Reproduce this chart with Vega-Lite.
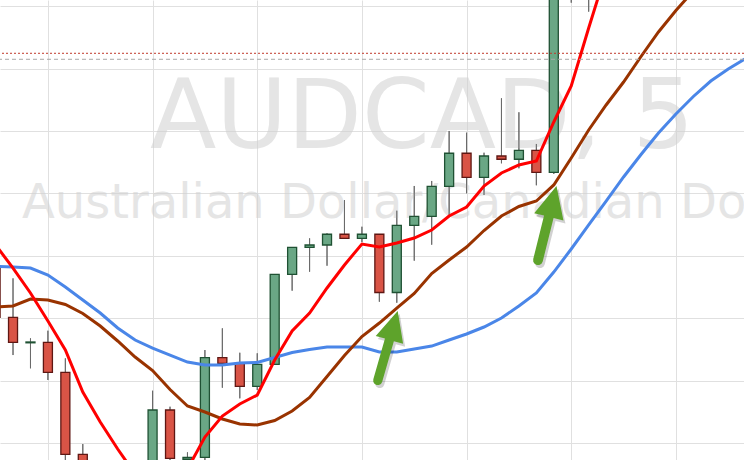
{
  "$schema": "https://vega.github.io/schema/vega-lite/v6.json",
  "width": 744,
  "height": 460,
  "autosize": {"type": "none"},
  "padding": 0,
  "background": "white",
  "config": {
    "view": {"stroke": null},
    "axis": {"labels": false, "ticks": false, "domain": false, "gridColor": "#e0e0e0", "gridWidth": 1, "gridOpacity": 1, "titleFontSize": 0, "titlePadding": 0}
  },
  "datasets": {
    "candles": [
      {"t": "2024-01-15T09:45:00Z", "o": 0.972825, "h": 0.972901, "l": 0.971971, "c": 0.972014},
      {"t": "2024-01-15T09:50:00Z", "o": 0.972014, "h": 0.972639, "l": 0.971410, "c": 0.971614},
      {"t": "2024-01-15T09:55:00Z", "o": 0.971606, "h": 0.971678, "l": 0.971197, "c": 0.971619},
      {"t": "2024-01-15T10:00:00Z", "o": 0.971614, "h": 0.971800, "l": 0.971010, "c": 0.971133},
      {"t": "2024-01-15T10:05:00Z", "o": 0.971133, "h": 0.971357, "l": 0.969679, "c": 0.969819},
      {"t": "2024-01-15T10:10:00Z", "o": 0.969819, "h": 0.969984, "l": 0.969167, "c": 0.969327},
      {"t": "2024-01-15T10:30:00Z", "o": 0.969407, "h": 0.970838, "l": 0.969247, "c": 0.970529},
      {"t": "2024-01-15T10:35:00Z", "o": 0.970529, "h": 0.970582, "l": 0.969567, "c": 0.969755},
      {"t": "2024-01-15T10:40:00Z", "o": 0.969736, "h": 0.969851, "l": 0.969599, "c": 0.969768},
      {"t": "2024-01-15T10:45:00Z", "o": 0.969771, "h": 0.971490, "l": 0.969679, "c": 0.971367},
      {"t": "2024-01-15T10:50:00Z", "o": 0.971367, "h": 0.971838, "l": 0.970886, "c": 0.971277},
      {"t": "2024-01-15T10:55:00Z", "o": 0.971277, "h": 0.971447, "l": 0.970716, "c": 0.970909},
      {"t": "2024-01-15T11:00:00Z", "o": 0.970909, "h": 0.971438, "l": 0.970849, "c": 0.971261},
      {"t": "2024-01-15T11:05:00Z", "o": 0.971261, "h": 0.972704, "l": 0.971261, "c": 0.972704},
      {"t": "2024-01-15T11:10:00Z", "o": 0.972704, "h": 0.973136, "l": 0.972441, "c": 0.973136},
      {"t": "2024-01-15T11:15:00Z", "o": 0.973136, "h": 0.973280, "l": 0.972745, "c": 0.973173},
      {"t": "2024-01-15T11:20:00Z", "o": 0.973173, "h": 0.973361, "l": 0.972841, "c": 0.973345},
      {"t": "2024-01-15T11:25:00Z", "o": 0.973345, "h": 0.973894, "l": 0.973280, "c": 0.973280},
      {"t": "2024-01-15T11:30:00Z", "o": 0.973280, "h": 0.973466, "l": 0.973221, "c": 0.973345},
      {"t": "2024-01-15T11:35:00Z", "o": 0.973345, "h": 0.973345, "l": 0.972264, "c": 0.972412},
      {"t": "2024-01-15T11:40:00Z", "o": 0.972412, "h": 0.973723, "l": 0.972248, "c": 0.973489},
      {"t": "2024-01-15T11:45:00Z", "o": 0.973489, "h": 0.974119, "l": 0.972922, "c": 0.973633},
      {"t": "2024-01-15T11:50:00Z", "o": 0.973633, "h": 0.974199, "l": 0.973178, "c": 0.974114},
      {"t": "2024-01-15T11:55:00Z", "o": 0.974114, "h": 0.975000, "l": 0.973654, "c": 0.974643},
      {"t": "2024-01-15T12:00:00Z", "o": 0.974643, "h": 0.974973, "l": 0.974002, "c": 0.974258},
      {"t": "2024-01-15T12:05:00Z", "o": 0.974258, "h": 0.974652, "l": 0.973974, "c": 0.974599},
      {"t": "2024-01-15T12:10:00Z", "o": 0.974599, "h": 0.975524, "l": 0.974482, "c": 0.974547},
      {"t": "2024-01-15T12:15:00Z", "o": 0.974547, "h": 0.975300, "l": 0.974402, "c": 0.974691},
      {"t": "2024-01-15T12:20:00Z", "o": 0.974691, "h": 0.974792, "l": 0.974130, "c": 0.974338},
      {"t": "2024-01-15T12:25:00Z", "o": 0.974338, "h": 0.977740, "l": 0.974311, "c": 0.977420},
      {"t": "2024-01-15T12:30:00Z", "o": 0.977420, "h": 0.978221, "l": 0.977056, "c": 0.978061},
      {"t": "2024-01-15T12:35:00Z", "o": 0.978061, "h": 0.978301, "l": 0.976912, "c": 0.977500}
    ],
    "ma": [
      {"t": "2024-01-15T09:45:00Z", "fast": 0.973173, "mid": 0.972179, "slow": 0.972829},
      {"t": "2024-01-15T09:50:00Z", "fast": 0.972804, "mid": 0.972196, "slow": 0.972821},
      {"t": "2024-01-15T09:55:00Z", "fast": 0.972404, "mid": 0.972308, "slow": 0.972804},
      {"t": "2024-01-15T10:00:00Z", "fast": 0.971955, "mid": 0.972292, "slow": 0.972692},
      {"t": "2024-01-15T10:05:00Z", "fast": 0.971490, "mid": 0.972220, "slow": 0.972500},
      {"t": "2024-01-15T10:10:00Z", "fast": 0.970817, "mid": 0.972075, "slow": 0.972292},
      {"t": "2024-01-15T10:15:00Z", "fast": 0.970337, "mid": 0.971875, "slow": 0.972083},
      {"t": "2024-01-15T10:20:00Z", "fast": 0.969904, "mid": 0.971635, "slow": 0.971843},
      {"t": "2024-01-15T10:25:00Z", "fast": 0.969503, "mid": 0.971378, "slow": 0.971651},
      {"t": "2024-01-15T10:30:00Z", "fast": 0.969199, "mid": 0.971162, "slow": 0.971522},
      {"t": "2024-01-15T10:35:00Z", "fast": 0.969135, "mid": 0.970857, "slow": 0.971410},
      {"t": "2024-01-15T10:40:00Z", "fast": 0.969583, "mid": 0.970593, "slow": 0.971298},
      {"t": "2024-01-15T10:45:00Z", "fast": 0.970096, "mid": 0.970497, "slow": 0.971250},
      {"t": "2024-01-15T10:50:00Z", "fast": 0.970433, "mid": 0.970385, "slow": 0.971250},
      {"t": "2024-01-15T10:55:00Z", "fast": 0.970625, "mid": 0.970304, "slow": 0.971282},
      {"t": "2024-01-15T11:00:00Z", "fast": 0.970769, "mid": 0.970288, "slow": 0.971290},
      {"t": "2024-01-15T11:05:00Z", "fast": 0.971330, "mid": 0.970361, "slow": 0.971370},
      {"t": "2024-01-15T11:10:00Z", "fast": 0.971795, "mid": 0.970513, "slow": 0.971450},
      {"t": "2024-01-15T11:15:00Z", "fast": 0.972083, "mid": 0.970729, "slow": 0.971498},
      {"t": "2024-01-15T11:20:00Z", "fast": 0.972484, "mid": 0.971066, "slow": 0.971538},
      {"t": "2024-01-15T11:25:00Z", "fast": 0.972853, "mid": 0.971402, "slow": 0.971538},
      {"t": "2024-01-15T11:30:00Z", "fast": 0.973189, "mid": 0.971707, "slow": 0.971538},
      {"t": "2024-01-15T11:35:00Z", "fast": 0.973141, "mid": 0.971923, "slow": 0.971458},
      {"t": "2024-01-15T11:40:00Z", "fast": 0.973205, "mid": 0.972163, "slow": 0.971458},
      {"t": "2024-01-15T11:45:00Z", "fast": 0.973285, "mid": 0.972396, "slow": 0.971506},
      {"t": "2024-01-15T11:50:00Z", "fast": 0.973413, "mid": 0.972716, "slow": 0.971554},
      {"t": "2024-01-15T11:55:00Z", "fast": 0.973638, "mid": 0.972933, "slow": 0.971651},
      {"t": "2024-01-15T12:00:00Z", "fast": 0.973782, "mid": 0.973141, "slow": 0.971747},
      {"t": "2024-01-15T12:05:00Z", "fast": 0.974119, "mid": 0.973405, "slow": 0.971859},
      {"t": "2024-01-15T12:10:00Z", "fast": 0.974327, "mid": 0.973638, "slow": 0.972003},
      {"t": "2024-01-15T12:15:00Z", "fast": 0.974455, "mid": 0.973790, "slow": 0.972196},
      {"t": "2024-01-15T12:20:00Z", "fast": 0.974519, "mid": 0.973878, "slow": 0.972404},
      {"t": "2024-01-15T12:25:00Z", "fast": 0.975144, "mid": 0.974135, "slow": 0.972740},
      {"t": "2024-01-15T12:30:00Z", "fast": 0.975721, "mid": 0.974567, "slow": 0.973109},
      {"t": "2024-01-15T12:35:00Z", "fast": 0.976651, "mid": 0.975016, "slow": 0.973494},
      {"t": "2024-01-15T12:40:00Z", "fast": 0.977548, "mid": 0.975417, "slow": 0.973878},
      {"t": "2024-01-15T12:45:00Z", "mid": 0.975785, "slow": 0.974263},
      {"t": "2024-01-15T12:50:00Z", "mid": 0.976194, "slow": 0.974623},
      {"t": "2024-01-15T12:55:00Z", "mid": 0.976587, "slow": 0.974968},
      {"t": "2024-01-15T13:00:00Z", "mid": 0.976931, "slow": 0.975272},
      {"t": "2024-01-15T13:05:00Z", "mid": 0.977244, "slow": 0.975553},
      {"t": "2024-01-15T13:10:00Z", "mid": 0.977532, "slow": 0.975801},
      {"t": "2024-01-15T13:15:00Z", "slow": 0.975994},
      {"t": "2024-01-15T13:20:00Z", "slow": 0.976162}
    ]
  },
  "layer": [
    {
      "data": {"name": "candles"},
      "mark": {"type": "rule", "strokeWidth": 1, "color": "#6a6a6a", "clip": true},
      "encoding": {
        "x": {"field": "t", "type": "temporal", "title": null,
              "scale": {"type": "utc", "domain": [1705311976000, 1705324771000], "nice": false, "padding": 0},
              "axis": {"title": null, "grid": true, "values": [1705312800000, 1705314600000, 1705316400000, 1705318200000, 1705320000000, 1705321800000, 1705323600000]}},
        "y": {"field": "l", "type": "quantitative", "title": null,
              "scale": {"domain": [0.969728, 0.977099], "nice": false, "zero": false, "padding": 0},
              "axis": {"title": null, "grid": true, "values": [0.9700, 0.9705, 0.9710, 0.9715, 0.9720, 0.9725, 0.9730, 0.9735, 0.9740, 0.9745, 0.9750, 0.9755, 0.9760, 0.9765, 0.9770]}},
        "y2": {"field": "h"}
      }
    },
    {
      "data": {"values": [{}]},
      "mark": {"type": "text", "text": "AUDCAD, 5", "font": "DejaVu Sans", "fontSize": 97, "align": "center", "baseline": "alphabetic", "color": "#d0d0d0", "opacity": 0.55, "clip": true},
      "encoding": {
        "x": {"datum": 1705319234000, "type": "temporal"},
        "y": {"datum": 0.9747276, "type": "quantitative"}
      }
    },
    {
      "data": {"values": [{}]},
      "mark": {"type": "text", "text": "Australian Dollar/Canadian Dollar", "font": "DejaVu Sans", "fontSize": 48, "align": "center", "baseline": "alphabetic", "color": "#d0d0d0", "opacity": 0.55, "clip": true},
      "encoding": {
        "x": {"datum": 1705319234000, "type": "temporal"},
        "y": {"datum": 0.9736058, "type": "quantitative"}
      }
    },
    {
      "data": {"name": "candles"},
      "mark": {"type": "rule", "strokeWidth": 1, "color": "#6a6a6a", "clip": true},
      "encoding": {
        "x": {"field": "t", "type": "temporal"},
        "y": {"field": "l", "type": "quantitative"},
        "y2": {"field": "h"}
      }
    },
    {
      "data": {"name": "candles"},
      "mark": {"type": "bar", "size": 9, "strokeWidth": 1.3, "clip": true},
      "encoding": {
        "x": {"field": "t", "type": "temporal"},
        "y": {"field": "o", "type": "quantitative"},
        "y2": {"field": "c"},
        "fill": {"condition": {"test": "datum.c >= datum.o", "value": "#6aa785"}, "value": "#d95446"},
        "stroke": {"condition": {"test": "datum.c >= datum.o", "value": "#1f5133"}, "value": "#5e1713"}
      }
    },
    {
      "data": {"name": "ma"},
      "mark": {"type": "line", "color": "#4a86e8", "strokeWidth": 3, "clip": true},
      "encoding": {
        "x": {"field": "t", "type": "temporal"},
        "y": {"field": "slow", "type": "quantitative"}
      }
    },
    {
      "data": {"name": "ma"},
      "mark": {"type": "line", "color": "#993300", "strokeWidth": 3, "clip": true},
      "encoding": {
        "x": {"field": "t", "type": "temporal"},
        "y": {"field": "mid", "type": "quantitative"}
      }
    },
    {
      "data": {"name": "ma"},
      "mark": {"type": "line", "color": "#ff0000", "strokeWidth": 3, "clip": true},
      "encoding": {
        "x": {"field": "t", "type": "temporal"},
        "y": {"field": "fast", "type": "quantitative"}
      }
    },
    {
      "data": {"values": [{}]},
      "mark": {"type": "rule", "color": "#c0392b", "strokeWidth": 1, "strokeDash": [2, 2]},
      "encoding": {"y": {"datum": 0.9762452, "type": "quantitative"}}
    },
    {
      "data": {"values": [{}]},
      "mark": {"type": "rule", "color": "#a8a8a8", "strokeWidth": 1, "strokeDash": [4, 3]},
      "encoding": {"y": {"datum": 0.9761490, "type": "quantitative"}}
    },
    {
      "data": {"values": [{}]},
      "mark": {"type": "point", "filled": true, "shape": "M0,-1L0.37,-0.22L0.12,-0.22L0.12,0.88L0.104,0.94L0.06,0.984L0,1L-0.06,0.984L-0.104,0.94L-0.12,0.88L-0.12,-0.22L-0.37,-0.22Z", "size": 5929, "angle": 16, "color": "#000000", "opacity": 0.18, "strokeWidth": 0, "xOffset": 2, "yOffset": 3},
      "encoding": {
        "x": {"datum": 1705318633000, "type": "temporal"},
        "y": {"datum": 0.9715224, "type": "quantitative"}
      }
    },
    {
      "data": {"values": [{}]},
      "mark": {"type": "point", "filled": true, "shape": "M0,-1L0.37,-0.22L0.12,-0.22L0.12,0.88L0.104,0.94L0.06,0.984L0,1L-0.06,0.984L-0.104,0.94L-0.12,0.88L-0.12,-0.22L-0.37,-0.22Z", "size": 5929, "angle": 16, "color": "#5ea32b", "opacity": 1, "strokeWidth": 0},
      "encoding": {
        "x": {"datum": 1705318633000, "type": "temporal"},
        "y": {"datum": 0.9715224, "type": "quantitative"}
      }
    },
    {
      "data": {"values": [{}]},
      "mark": {"type": "point", "filled": true, "shape": "M0,-1L0.37,-0.22L0.12,-0.22L0.12,0.88L0.104,0.94L0.06,0.984L0,1L-0.06,0.984L-0.104,0.94L-0.12,0.88L-0.12,-0.22L-0.37,-0.22Z", "size": 6642, "angle": 14, "color": "#000000", "opacity": 0.18, "strokeWidth": 0, "xOffset": 2, "yOffset": 3},
      "encoding": {
        "x": {"datum": 1705321377000, "type": "temporal"},
        "y": {"datum": 0.9734856, "type": "quantitative"}
      }
    },
    {
      "data": {"values": [{}]},
      "mark": {"type": "point", "filled": true, "shape": "M0,-1L0.37,-0.22L0.12,-0.22L0.12,0.88L0.104,0.94L0.06,0.984L0,1L-0.06,0.984L-0.104,0.94L-0.12,0.88L-0.12,-0.22L-0.37,-0.22Z", "size": 6642, "angle": 14, "color": "#5ea32b", "opacity": 1, "strokeWidth": 0},
      "encoding": {
        "x": {"datum": 1705321377000, "type": "temporal"},
        "y": {"datum": 0.9734856, "type": "quantitative"}
      }
    }
  ]
}
